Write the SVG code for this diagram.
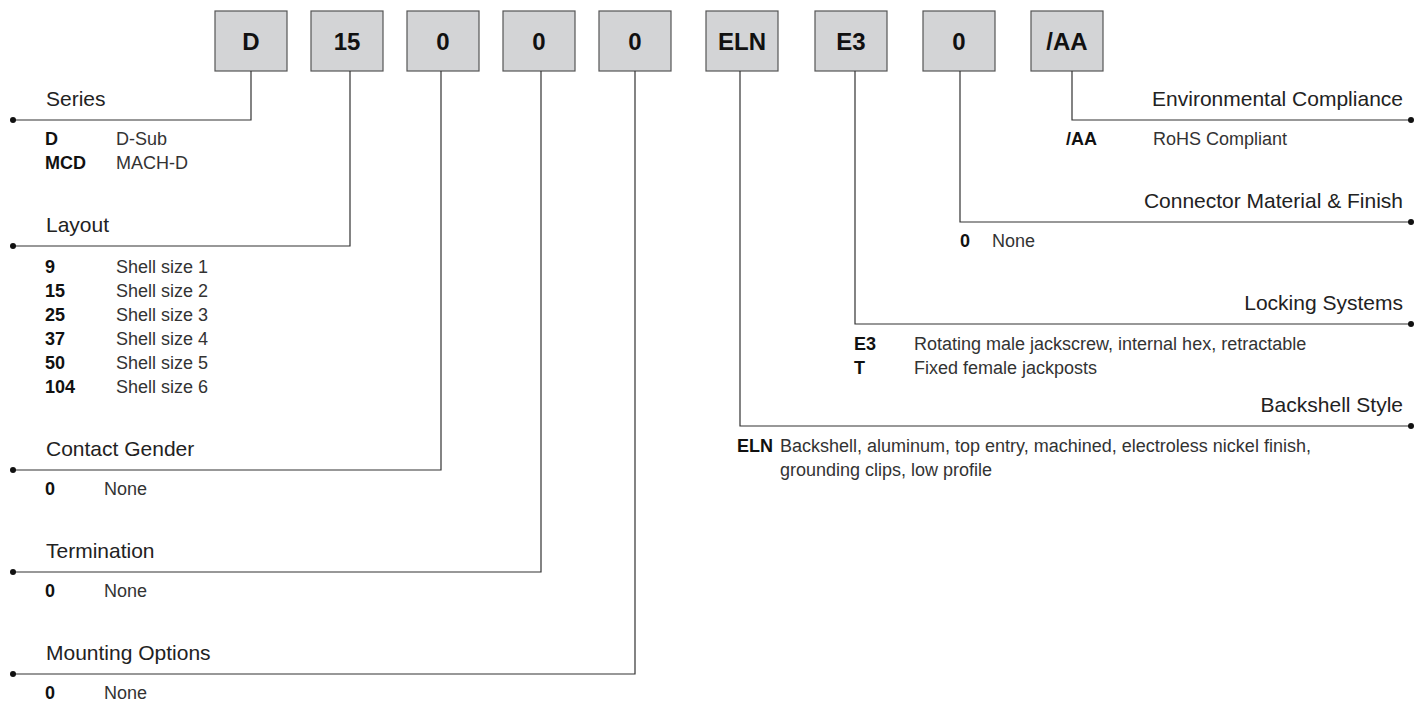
<svg xmlns="http://www.w3.org/2000/svg" width="1426" height="702" viewBox="0 0 1426 702">
<style>
text{font-family:"Liberation Sans",Arial,sans-serif;}
.box{fill:#d3d4d6;stroke:#555;stroke-width:1.2;}
.bt{font-size:24px;font-weight:bold;fill:#111;text-anchor:middle;}
.lbl{font-size:21px;fill:#222;}
.r{text-anchor:end;}
.code{font-size:18px;font-weight:bold;fill:#111;}
.desc{font-size:18px;fill:#333;}
.ln{fill:none;stroke:#333;stroke-width:1.2;}
.dot{fill:#111;}
</style>
<g id="nodes">
<g id="box-D"><rect class="box" x="215" y="11" width="72" height="60"/><text class="bt" x="251" y="50">D</text></g>
<g id="box-15"><rect class="box" x="311" y="11" width="72" height="60"/><text class="bt" x="347" y="50">15</text></g>
<g id="box-0a"><rect class="box" x="407" y="11" width="72" height="60"/><text class="bt" x="443" y="50">0</text></g>
<g id="box-0b"><rect class="box" x="503" y="11" width="72" height="60"/><text class="bt" x="539" y="50">0</text></g>
<g id="box-0c"><rect class="box" x="599" y="11" width="72" height="60"/><text class="bt" x="635" y="50">0</text></g>
<g id="box-ELN"><rect class="box" x="706" y="11" width="72" height="60"/><text class="bt" x="742" y="50">ELN</text></g>
<g id="box-E3"><rect class="box" x="815" y="11" width="72" height="60"/><text class="bt" x="851" y="50">E3</text></g>
<g id="box-0d"><rect class="box" x="923" y="11" width="72" height="60"/><text class="bt" x="959" y="50">0</text></g>
<g id="box-AA"><rect class="box" x="1031" y="11" width="72" height="60"/><text class="bt" x="1067" y="50">/AA</text></g>
</g>
<g id="connectors">
<polyline class="ln" points="251,71 251,120 13,120"/><circle class="dot" cx="13" cy="120" r="3"/>
<polyline class="ln" points="350,71 350,246 13,246"/><circle class="dot" cx="13" cy="246" r="3"/>
<polyline class="ln" points="441,71 441,470 13,470"/><circle class="dot" cx="13" cy="470" r="3"/>
<polyline class="ln" points="541,71 541,572 13,572"/><circle class="dot" cx="13" cy="572" r="3"/>
<polyline class="ln" points="635,71 635,674 13,674"/><circle class="dot" cx="13" cy="674" r="3"/>
<polyline class="ln" points="1072,71 1072,120 1411,120"/><circle class="dot" cx="1411" cy="120" r="3"/>
<polyline class="ln" points="960,71 960,222 1411,222"/><circle class="dot" cx="1411" cy="222" r="3"/>
<polyline class="ln" points="855,71 855,324 1411,324"/><circle class="dot" cx="1411" cy="324" r="3"/>
<polyline class="ln" points="740,71 740,426 1411,426"/><circle class="dot" cx="1411" cy="426" r="3"/>
</g>
<g id="series">
<text class="lbl" x="46" y="106">Series</text>
<text class="code" x="45" y="145">D</text><text class="desc" x="116" y="145">D-Sub</text>
<text class="code" x="45" y="169">MCD</text><text class="desc" x="116" y="169">MACH-D</text>
</g>
<g id="layout">
<text class="lbl" x="46" y="232">Layout</text>
<text class="code" x="45" y="273">9</text><text class="desc" x="116" y="273">Shell size 1</text>
<text class="code" x="45" y="297">15</text><text class="desc" x="116" y="297">Shell size 2</text>
<text class="code" x="45" y="321">25</text><text class="desc" x="116" y="321">Shell size 3</text>
<text class="code" x="45" y="345">37</text><text class="desc" x="116" y="345">Shell size 4</text>
<text class="code" x="45" y="369">50</text><text class="desc" x="116" y="369">Shell size 5</text>
<text class="code" x="45" y="393">104</text><text class="desc" x="116" y="393">Shell size 6</text>
</g>
<g id="contact-gender">
<text class="lbl" x="46" y="456">Contact Gender</text>
<text class="code" x="45" y="495">0</text><text class="desc" x="104" y="495">None</text>
</g>
<g id="termination">
<text class="lbl" x="46" y="558">Termination</text>
<text class="code" x="45" y="597">0</text><text class="desc" x="104" y="597">None</text>
</g>
<g id="mounting">
<text class="lbl" x="46" y="660">Mounting Options</text>
<text class="code" x="45" y="699">0</text><text class="desc" x="104" y="699">None</text>
</g>
<g id="environmental">
<text class="lbl r" x="1403" y="106">Environmental Compliance</text>
<text class="code" x="1066" y="145">/AA</text><text class="desc" x="1153" y="145">RoHS Compliant</text>
</g>
<g id="material">
<text class="lbl r" x="1403" y="208">Connector Material &amp; Finish</text>
<text class="code" x="960" y="247">0</text><text class="desc" x="992" y="247">None</text>
</g>
<g id="locking">
<text class="lbl r" x="1403" y="310">Locking Systems</text>
<text class="code" x="854" y="350">E3</text><text class="desc" x="914" y="350">Rotating male jackscrew, internal hex, retractable</text>
<text class="code" x="854" y="374">T</text><text class="desc" x="914" y="374">Fixed female jackposts</text>
</g>
<g id="backshell">
<text class="lbl r" x="1403" y="412">Backshell Style</text>
<text class="code" x="737" y="452">ELN</text><text class="desc" x="780" y="452">Backshell, aluminum, top entry, machined, electroless nickel finish,</text>
<text class="desc" x="780" y="476">grounding clips, low profile</text>
</g>
</svg>
